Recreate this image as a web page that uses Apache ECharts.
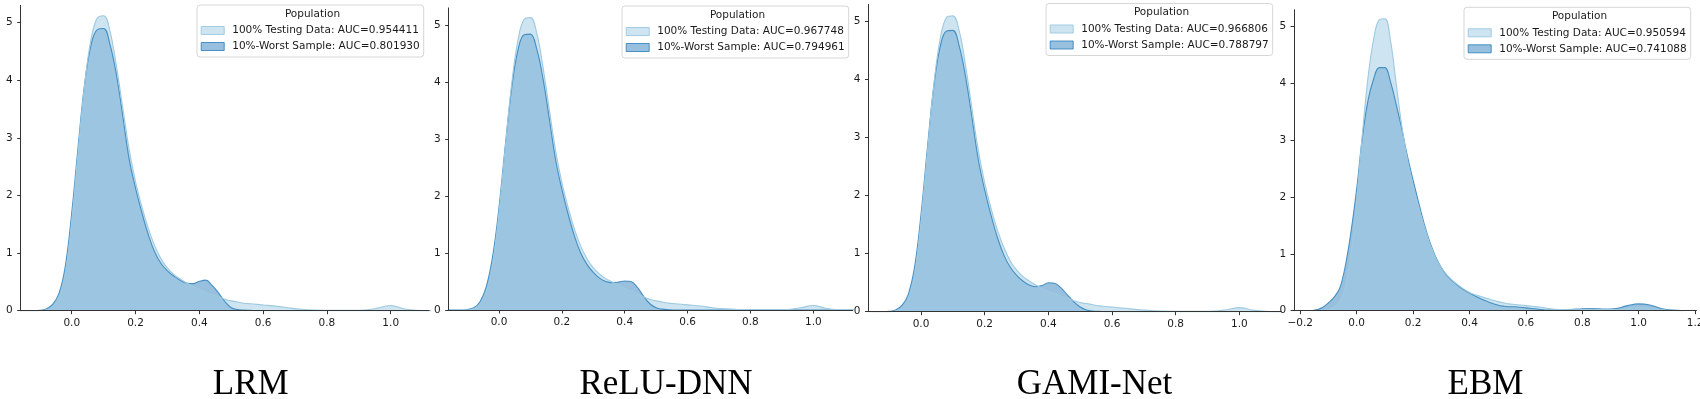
<!DOCTYPE html>
<html>
<head>
<meta charset="utf-8">
<title>Population KDE</title>
<script src="https://cdn.jsdelivr.net/npm/echarts@6/dist/echarts.min.js"></script>
<style>
  html, body { margin: 0; padding: 0; background: #fff; }
  #chart { width: 1700px; height: 399px; }
</style>
</head>
<body>
<div id="chart"></div>
<script>
const xGrid = [
  -0.16, -0.14, -0.12, -0.10, -0.08, -0.06, -0.04, -0.02, 0.00, 0.02,
  0.04, 0.06, 0.08, 0.10, 0.12, 0.14, 0.16, 0.18, 0.20, 0.22,
  0.24, 0.26, 0.28, 0.30, 0.32, 0.34, 0.36, 0.38, 0.40, 0.42,
  0.44, 0.46, 0.48, 0.50, 0.52, 0.54, 0.56, 0.58, 0.60,
  0.64, 0.68, 0.72, 0.76, 0.80, 0.84, 0.88, 0.92, 0.96, 1.00, 1.04, 1.08, 1.12, 1.16
];

const models = ["LRM", "ReLU-DNN", "GAMI-Net", "EBM"];
const testAuc = ["0.954411", "0.967748", "0.966806", "0.950594"];
const worstAuc = ["0.801930", "0.794961", "0.788797", "0.741088"];

// 100% Testing Data densities
const lrmTest = [0, 0, 0, 0, 0.01, 0.06, 0.22, 0.65, 1.55, 2.75, 3.9, 4.7, 5.08, 5.12, 4.85, 4.25, 3.52, 2.8, 2.24, 1.8, 1.43, 1.13, 0.9, 0.74, 0.63, 0.55, 0.48, 0.42, 0.37, 0.32, 0.28, 0.24, 0.2, 0.17, 0.15, 0.13, 0.12, 0.11, 0.1, 0.08, 0.05, 0.025, 0.012, 0.008, 0.006, 0.006, 0.012, 0.045, 0.09, 0.035, 0.006, 0, 0];
const dnnTest = [0, 0, 0, 0, 0.02, 0.1, 0.32, 0.82, 1.7, 2.85, 3.95, 4.72, 5.1, 5.13, 4.86, 4.26, 3.52, 2.8, 2.24, 1.8, 1.42, 1.12, 0.9, 0.74, 0.63, 0.55, 0.49, 0.43, 0.38, 0.33, 0.28, 0.23, 0.19, 0.16, 0.14, 0.12, 0.11, 0.1, 0.09, 0.07, 0.04, 0.02, 0.01, 0.007, 0.005, 0.005, 0.01, 0.04, 0.08, 0.03, 0.005, 0, 0];
const gamiTest = [0, 0, 0, 0, 0.01, 0.06, 0.22, 0.65, 1.55, 2.75, 3.9, 4.7, 5.07, 5.1, 4.84, 4.24, 3.5, 2.78, 2.22, 1.78, 1.41, 1.11, 0.88, 0.72, 0.61, 0.53, 0.46, 0.4, 0.35, 0.31, 0.27, 0.23, 0.19, 0.16, 0.14, 0.12, 0.1, 0.09, 0.08, 0.06, 0.035, 0.018, 0.01, 0.007, 0.006, 0.006, 0.01, 0.035, 0.07, 0.03, 0.005, 0, 0];
const ebmTest = [0, 0, 0.005, 0.02, 0.06, 0.16, 0.42, 1.0, 1.95, 3.1, 4.1, 4.78, 5.12, 5.14, 4.75, 4.0, 3.25, 2.65, 2.2, 1.82, 1.47, 1.17, 0.93, 0.76, 0.63, 0.53, 0.45, 0.38, 0.32, 0.28, 0.25, 0.22, 0.19, 0.16, 0.14, 0.12, 0.11, 0.1, 0.09, 0.07, 0.04, 0.02, 0.015, 0.02, 0.025, 0.02, 0.02, 0.04, 0.06, 0.04, 0.015, 0.003, 0];

// 10%-Worst Sample densities
const lrmWorst = [0, 0, 0, 0.005, 0.03, 0.11, 0.3, 0.78, 1.7, 2.85, 3.92, 4.6, 4.88, 4.9, 4.62, 4.1, 3.38, 2.63, 2.13, 1.7, 1.32, 1.02, 0.82, 0.69, 0.6, 0.53, 0.48, 0.47, 0.51, 0.53, 0.44, 0.31, 0.16, 0.05, 0.02, 0.01, 0.005, 0, 0, 0, 0, 0, 0, 0, 0, 0, 0, 0, 0, 0, 0, 0, 0];
const dnnWorst = [0, 0, 0, 0.01, 0.04, 0.15, 0.42, 0.95, 1.8, 2.88, 3.88, 4.55, 4.83, 4.84, 4.58, 4.06, 3.36, 2.64, 2.12, 1.68, 1.3, 1.0, 0.8, 0.66, 0.56, 0.5, 0.48, 0.49, 0.51, 0.5, 0.4, 0.24, 0.11, 0.04, 0.015, 0.005, 0, 0, 0, 0, 0, 0, 0, 0, 0, 0, 0, 0, 0, 0, 0, 0, 0];
const gamiWorst = [0, 0, 0, 0.005, 0.03, 0.11, 0.3, 0.78, 1.68, 2.82, 3.88, 4.56, 4.84, 4.85, 4.58, 4.05, 3.35, 2.62, 2.1, 1.66, 1.28, 0.98, 0.77, 0.63, 0.53, 0.46, 0.43, 0.45, 0.5, 0.49, 0.41, 0.29, 0.17, 0.08, 0.03, 0.01, 0.005, 0, 0, 0, 0, 0, 0, 0, 0, 0, 0, 0, 0, 0, 0, 0, 0];
const ebmWorst = [0, 0.02, 0.06, 0.14, 0.24, 0.4, 0.8, 1.4, 2.15, 3.05, 3.7, 4.08, 4.28, 4.28, 4.03, 3.63, 3.2, 2.72, 2.3, 1.9, 1.52, 1.2, 0.95, 0.76, 0.62, 0.52, 0.44, 0.37, 0.31, 0.26, 0.21, 0.17, 0.13, 0.1, 0.08, 0.07, 0.07, 0.06, 0.05, 0.03, 0.01, 0.01, 0.02, 0.035, 0.04, 0.03, 0.04, 0.09, 0.12, 0.1, 0.04, 0.01, 0];

const testData = [lrmTest, dnnTest, gamiTest, ebmTest];
const worstData = [lrmWorst, dnnWorst, gamiWorst, ebmWorst];

// tick labels
const xTicks = [0, 0.2, 0.4, 0.6, 0.8, 1.0];
const xTicksEbm = [-0.2, 0, 0.2, 0.4, 0.6, 0.8, 1.0, 1.2];
const yTicks = [0, 1, 2, 3, 4, 5];

// panel layout (pixels)
const panels = [
  { left: 20.7, width: 408.3, top: 5.4, height: 305.3, xMin: -0.16, xMax: 1.12, legendLeft: 197, legendTop: 5, titleX: 250.7 },
  { left: 448.7, width: 403.9, top: 7.9, height: 302.1, xMin: -0.16, xMax: 1.125, legendLeft: 622, legendTop: 6, titleX: 666 },
  { left: 868.5, width: 412.2, top: 4.3, height: 307.4, xMin: -0.165, xMax: 1.13, legendLeft: 1046, legendTop: 3.5, titleX: 1094.5 },
  { left: 1294.1, width: 402.4, top: 9.7, height: 301, xMin: -0.222, xMax: 1.205, legendLeft: 1464, legendTop: 7.3, titleX: 1485.5 },
];

const yMax = 5.3;
const axisColor = "#333";
const labelColor = "#1a1a1a";
const tickFont = "DejaVu Sans";

const lightFill = "rgba(158,202,225,0.5)";
const lightLine = "rgba(158,202,225,1)";
const darkFill = "rgba(49,130,189,0.5)";
const darkLine = "rgba(49,130,189,0.85)";

const fmtTick = (v) => v.toFixed(1).replace("-", "\u2212");

const grids = [];
const xAxes = [];
const yAxes = [];
const series = [];
const legends = [];
const graphics = [];

panels.forEach((p, i) => {
  const ticks = i === 3 ? xTicksEbm : xTicks;
  const testName = "100% Testing Data: AUC=" + testAuc[i];
  const worstName = "10%-Worst Sample: AUC=" + worstAuc[i];

  grids.push({
    left: p.left, top: p.top, width: p.width, height: p.height,
    containLabel: false, outerBoundsMode: "none",
  });

  xAxes.push({
    type: "value", gridIndex: i, min: p.xMin, max: p.xMax, z: 5,
    axisLine: { show: true, onZero: false, lineStyle: { color: axisColor, width: 1 } },
    axisTick: { show: true, customValues: ticks, length: 3.5, inside: false, lineStyle: { color: axisColor, width: 1 } },
    axisLabel: { customValues: ticks, formatter: fmtTick, color: labelColor, fontFamily: tickFont, fontSize: 10.5, margin: 7 },
    splitLine: { show: false },
  });

  yAxes.push({
    type: "value", gridIndex: i, min: 0, max: yMax, z: 5,
    axisLine: { show: true, onZero: false, lineStyle: { color: axisColor, width: 1 } },
    axisTick: { show: true, customValues: yTicks, length: 3.5, inside: false, lineStyle: { color: axisColor, width: 1 } },
    axisLabel: { customValues: yTicks, color: labelColor, fontFamily: tickFont, fontSize: 10.5, margin: 8 },
    splitLine: { show: false },
  });

  // worst sample first so the testing data is layered on top of it
  series.push({
    type: "line", name: worstName, xAxisIndex: i, yAxisIndex: i,
    data: xGrid.map((x, k) => [x, worstData[i][k]]),
    smooth: 0.4, symbol: "none", showSymbol: false, silent: true,
    itemStyle: { color: darkLine },
    lineStyle: { color: darkLine, width: 1.1 },
    areaStyle: { color: darkFill, opacity: 1 },
  });
  series.push({
    type: "line", name: testName, xAxisIndex: i, yAxisIndex: i,
    data: xGrid.map((x, k) => [x, testData[i][k]]),
    smooth: 0.4, symbol: "none", showSymbol: false, silent: true,
    itemStyle: { color: lightLine },
    lineStyle: { color: lightLine, width: 1.1 },
    areaStyle: { color: lightFill, opacity: 1 },
  });

  legends.push({
    orient: "vertical", left: p.legendLeft, top: p.legendTop,
    padding: [19, 4, 4, 3.7], itemWidth: 23, itemHeight: 8, itemGap: 3,
    icon: "rect", selectedMode: false,
    backgroundColor: "rgba(255,255,255,0.8)", borderColor: "#d6d6d6", borderWidth: 1, borderRadius: 3,
    textStyle: { color: labelColor, fontFamily: tickFont, fontSize: 10.5, lineHeight: 13, padding: [0, 0, 0, 3] },
    data: [
      { name: testName, itemStyle: { color: lightFill, borderColor: "rgba(158,202,225,0.95)", borderWidth: 1 } },
      { name: worstName, itemStyle: { color: darkFill, borderColor: "rgba(49,130,189,0.85)", borderWidth: 1 } },
    ],
  });

  graphics.push({
    type: "text", x: p.legendLeft + 115.5, y: p.legendTop + 9, z: 100,
    style: { text: "Population", font: "10.5px 'DejaVu Sans'", fill: labelColor, align: "center", verticalAlign: "middle" },
  });
  graphics.push({
    type: "text", x: p.titleX, y: 385,
    style: { text: models[i], font: "35px 'Liberation Serif'", fill: "#000", align: "center", verticalAlign: "middle" },
  });
});

const chart = echarts.init(document.getElementById("chart"), null, { renderer: "canvas" });
chart.setOption({
  animation: false,
  backgroundColor: "#fff",
  grid: grids,
  xAxis: xAxes,
  yAxis: yAxes,
  legend: legends,
  graphic: graphics,
  series: series,
});
</script>
</body>
</html>
